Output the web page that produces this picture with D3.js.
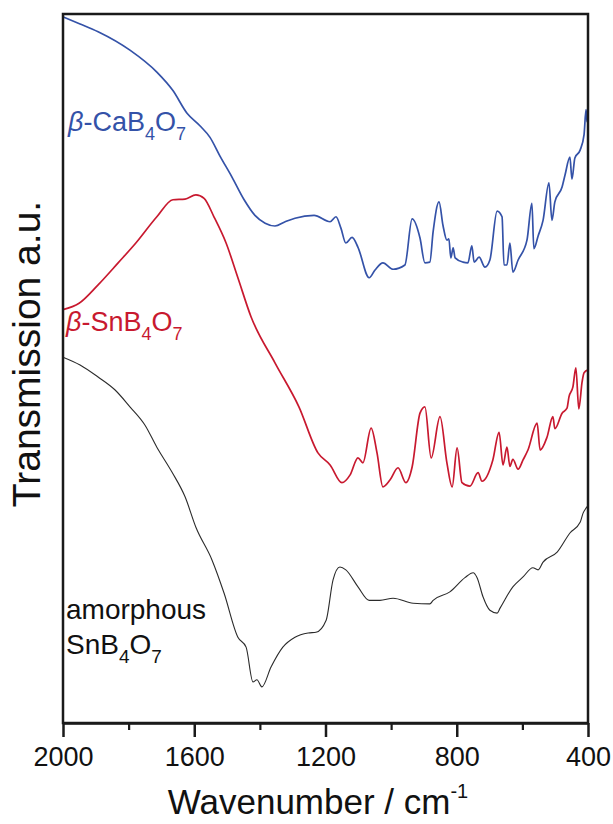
<!DOCTYPE html>
<html>
<head>
<meta charset="utf-8">
<script src="https://cdn.jsdelivr.net/npm/d3@7"></script>
<style>
  body { margin: 0; background: #fff; }
  text { font-family: "Liberation Sans", Arial, sans-serif; }
</style>
</head>
<body>
<svg id="chart" width="613" height="824"></svg>
<script>
// IR spectra, wavenumber (cm-1) vs transmission (a.u., stacked)
var caWave = [2000,1948,1893,1796,1714,1665,1622,1582,1552,1522,1485,1448,1415,1384,1354,1323,1293,1235,1186,1168,1153,1138,1119,1101,1067,1049,1025,994,958,936,912,897,882,872,854,842,830,824,818,811,805,781,766,754,747,732,714,699,677,662,656,647,638,629,613,586,571,565,552,537,519,510,501,479,470,455,449,440,424,412,406,403,400];
var caTrans = [99.6,98.6,97.5,94.9,91.8,89.2,86.0,84.2,82.6,80.0,77.0,73.8,71.6,70.5,70.1,70.7,71.2,71.6,70.7,71.4,69.8,67.7,68.5,67.1,62.8,63.9,64.9,64.0,64.6,71.1,68.4,64.9,65.0,69.3,73.5,70.2,68.1,68.3,65.6,67.0,65.6,65.0,64.9,67.3,65.0,65.7,64.3,65.3,72.2,71.4,64.6,64.6,67.7,63.6,65.3,68.1,73.3,66.9,68.7,70.9,76.2,70.9,73.5,75.6,77.3,79.8,76.7,79.7,80.8,83.0,86.5,84.8,87.0];

var snWave = [2000,1951,1893,1832,1778,1714,1665,1628,1595,1570,1540,1503,1467,1427,1354,1281,1223,1186,1150,1125,1101,1086,1061,1043,1025,1003,979,955,936,912,897,878,851,830,814,799,784,760,735,723,690,671,659,647,638,629,613,598,583,555,546,525,507,501,479,464,458,446,437,428,418,412,400];
var snTrans = [58.3,59.2,61.8,64.9,67.7,71.4,73.8,73.9,74.5,74.0,71.4,67.7,62.8,57.3,50.8,44.6,38.1,36.4,33.9,35.0,37.4,36.7,41.6,38.1,33.3,34.3,36.0,33.9,36.1,43.7,44.6,37.4,43.2,36.7,33.3,38.8,33.9,33.4,35.3,34.1,37.1,41.0,36.4,38.9,36.2,37.2,35.8,37.1,38.5,42.3,38.5,40.3,43.2,41.5,43.7,44.4,46.0,47.4,50.1,44.3,48.1,49.4,49.8];

var amWave = [2000,1948,1893,1842,1796,1750,1714,1668,1628,1595,1546,1509,1467,1442,1421,1409,1394,1366,1330,1293,1253,1229,1198,1177,1156,1138,1101,1067,1034,994,933,882,872,821,775,750,738,720,699,677,668,629,598,568,552,537,494,455,424,415,406,400];
var amTrans = [51.6,50.5,48.8,47.0,44.6,42.0,38.9,35.4,31.9,27.6,23.0,18.3,12.1,10.7,5.8,6.1,5.1,7.9,10.7,12.1,12.7,12.8,14.5,20.2,22.0,21.6,19.2,17.3,17.3,17.6,16.9,16.8,17.3,18.5,20.5,21.2,20.5,17.8,15.9,15.5,16.2,19.2,20.6,21.9,21.6,22.7,24.1,26.8,28.3,29.6,30.3,30.7];

var majorTicks = [2000, 1600, 1200, 800, 400];
var minorTicks = [1800, 1400, 1000, 600];

var svg = d3.select('#chart');

// plot frame in pixels
var plotLeft = 63, plotRight = 588, plotTop = 14, plotBottom = 723;

var x = d3.scaleLinear().domain([2000, 400]).range([plotLeft, plotRight]);
var y = d3.scaleLinear().domain([0, 100]).range([plotBottom, plotTop]);

var line = d3.line()
    .x(d => x(d[0]))
    .y(d => y(d[1]))
    .curve(d3.curveMonotoneX);

function drawSpectrum(wave, trans, color, width) {
    svg.append('path')
        .datum(d3.zip(wave, trans))
        .attr('d', line)
        .attr('fill', 'none')
        .attr('stroke', color)
        .attr('stroke-width', width)
        .attr('stroke-linejoin', 'round');
}

drawSpectrum(amWave, amTrans, '#2b2b2b', 1.1);
drawSpectrum(snWave, snTrans, '#c8192f', 1.7);
drawSpectrum(caWave, caTrans, '#3452a8', 1.7);

// frame
svg.append('rect')
    .attr('x', plotLeft).attr('y', plotTop)
    .attr('width', plotRight - plotLeft).attr('height', plotBottom - plotTop)
    .attr('fill', 'none')
    .attr('stroke', '#1a1a1a')
    .attr('stroke-width', 2.5);

// x axis, major ticks with labels
var xAxis = svg.append('g')
    .attr('transform', 'translate(0,' + plotBottom + ')')
    .call(d3.axisBottom(x).tickValues(majorTicks).tickSize(14).tickSizeOuter(0).tickPadding(10).tickFormat(d3.format('d')));
xAxis.select('.domain').attr('stroke-width', 2.5).attr('stroke', '#1a1a1a');
xAxis.selectAll('.tick line').attr('stroke-width', 2.5).attr('stroke', '#1a1a1a');
xAxis.selectAll('.tick text')
    .attr('font-size', 27)
    .attr('font-family', '"Liberation Sans", Arial, sans-serif')
    .attr('fill', '#111');

// minor ticks
var xMinor = svg.append('g')
    .attr('transform', 'translate(0,' + plotBottom + ')')
    .call(d3.axisBottom(x).tickValues(minorTicks).tickSize(7).tickFormat(''));
xMinor.select('.domain').remove();
xMinor.selectAll('.tick line').attr('stroke-width', 2.2).attr('stroke', '#1a1a1a');

// axis titles
var xt = svg.append('text')
    .attr('x', 318).attr('y', 814)
    .attr('text-anchor', 'middle')
    .attr('font-size', 35)
    .attr('fill', '#111');
xt.append('tspan').text('Wavenumber / cm');
xt.append('tspan').attr('font-size', 20).attr('dy', -16).text('-1');

svg.append('text')
    .attr('transform', 'translate(40,354) rotate(-90)')
    .attr('text-anchor', 'middle')
    .attr('font-size', 39)
    .attr('fill', '#111')
    .text('Transmission a.u.');

// series labels
function formula(xp, yp, color, prefix, name, size) {
    var sub = Math.round(size * 0.68);
    var t = svg.append('text')
        .attr('x', xp).attr('y', yp)
        .attr('font-size', size)
        .attr('fill', color);
    if (prefix) {
        t.append('tspan').attr('font-style', 'italic').text('\u03b2');
        t.append('tspan').text('-');
    }
    t.append('tspan').text(name);
    t.append('tspan').attr('font-size', sub).attr('dy', 9).text('4');
    t.append('tspan').attr('dy', -9).text('O');
    t.append('tspan').attr('font-size', sub).attr('dy', 9).text('7');
}

formula(68, 131, '#3452a8', true, 'CaB', 27);
formula(66, 331, '#c8192f', true, 'SnB', 27);

svg.append('text')
    .attr('x', 66).attr('y', 619)
    .attr('font-size', 28)
    .attr('fill', '#111')
    .text('amorphous');
formula(66, 654, '#111', false, 'SnB', 28);
</script>
</body>
</html>
